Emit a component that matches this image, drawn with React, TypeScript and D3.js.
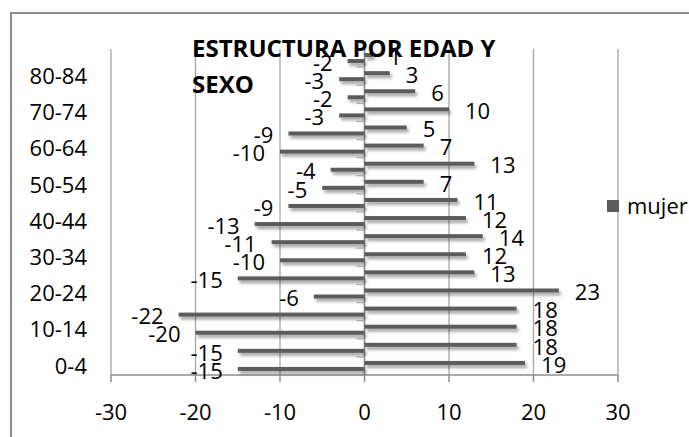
import * as d3 from "d3";

const ageGroups = [
  "0-4", "5-9", "10-14", "15-19", "20-24", "25-29", "30-34", "35-39", "40-44",
  "45-49", "50-54", "55-59", "60-64", "65-69", "70-74", "75-79", "80-84", "85+",
];
const hombre = [-15, -15, -20, -22, -6, -15, -10, -11, -13, -9, -5, -4, -10, -9, -3, -2, -3, -2];
const mujer = [19, 18, 18, 18, 23, 13, 12, 14, 12, 11, 7, 13, 7, 5, 10, 6, 3, 1];
const xTicks = [-30, -20, -10, 0, 10, 20, 30];
const seriesNames = ["mujer", "hombre"];
const titleLines = ["ESTRUCTURA POR EDAD Y", "SEXO"];

const W = 689;
const H = 437;
const FONT = "'Open Sans', 'Liberation Sans', sans-serif";
const BAR = "#5c5c5c";
const GRID = "#a6a6a6";

export default function App() {
  const x = d3.scaleLinear().domain([-30, 30]).range([111, 618]);
  const y = d3.scaleBand().domain(ageGroups).range([375, 49]);
  const bw = y.bandwidth();
  const sub = d3
    .scaleBand()
    .domain(seriesNames)
    .range([0, bw])
    .paddingInner(0.33)
    .paddingOuter(0.67);

  const rows = ageGroups.flatMap((g, i) => [
    { group: g, serie: "hombre", value: hombre[i] },
    { group: g, serie: "mujer", value: mujer[i] },
  ]);

  // every second age group gets a label, like the original
  const labelled = ageGroups.filter((_, i) => i % 2 === 0);

  const x0 = x(0);
  const axisY = 375;

  return (
    <svg
      width={W}
      height={H}
      style={{ position: "absolute", left: 0, top: 0, background: "#fff" }}
      fontFamily={FONT}
    >
      <defs>
        <filter id="shadow" x="-10%" y="-100%" width="130%" height="400%">
          <feDropShadow dx="2" dy="3" stdDeviation="1.8" floodColor="#000" floodOpacity="0.35" />
        </filter>
      </defs>

      {/* chart border (runs off the picture on the right and bottom) */}
      <rect x={11} y={13} width={720} height={460} fill="none" stroke="#8c8c8c" strokeWidth={2} />

      {/* vertical gridlines */}
      {xTicks.map((t) => (
        <line key={"g" + t} x1={x(t)} x2={x(t)} y1={49} y2={axisY} stroke={GRID} strokeWidth={1.3} />
      ))}

      {/* value axis */}
      <line x1={x(-30)} x2={x(30)} y1={axisY} y2={axisY} stroke="#8c8c8c" strokeWidth={1.5} />
      {xTicks.map((t) => (
        <g key={"t" + t}>
          <line x1={x(t)} x2={x(t)} y1={axisY} y2={axisY + 7} stroke="#8c8c8c" strokeWidth={1.5} />
          <text x={x(t)} y={412} textAnchor="middle" dy="0.35em" fontSize={22} fill="#000">
            {t}
          </text>
        </g>
      ))}

      {/* category axis at zero */}
      <line x1={x0} x2={x0} y1={49} y2={axisY} stroke="#8c8c8c" strokeWidth={1.5} />
      {ageGroups.map((g) => (
        <line
          key={"ct" + g}
          x1={x0 - 8}
          x2={x0}
          y1={(y(g) as number)}
          y2={(y(g) as number)}
          stroke="#bdbdbd"
          strokeWidth={1.3}
        />
      ))}
      {labelled.map((g) => (
        <text
          key={"cl" + g}
          x={87}
          y={(y(g) as number) + bw / 2}
          dy="0.35em"
          textAnchor="end"
          fontSize={22}
          fill="#000"
        >
          {g}
        </text>
      ))}

      {/* bars */}
      <g filter="url(#shadow)">
        {rows.map((r) => {
          const top = (y(r.group) as number) + (sub(r.serie) as number);
          return (
            <rect
              key={"b" + r.group + r.serie}
              x={Math.min(x0, x(r.value))}
              y={top}
              width={Math.abs(x(r.value) - x0)}
              height={sub.bandwidth()}
              fill={BAR}
            />
          );
        })}
      </g>

      {/* data labels */}
      {rows.map((r) => {
        const cy = (y(r.group) as number) + (sub(r.serie) as number) + sub.bandwidth() / 2 + 2;
        const neg = r.value < 0;
        return (
          <text
            key={"l" + r.group + r.serie}
            x={neg ? x(r.value) - 15 : x(r.value) + 16}
            y={cy}
            dy="0.35em"
            textAnchor={neg ? "end" : "start"}
            fontSize={22}
            fill="#000"
          >
            {r.value}
          </text>
        );
      })}

      {/* legend */}
      <rect x={607} y={200} width={12} height={12} fill={BAR} />
      <text x={627} y={206} dy="0.35em" fontSize={22} fill="#000">
        mujer
      </text>

      {/* title */}
      {titleLines.map((t, i) => (
        <text key={"tt" + i} x={192} y={57 + i * 36} fontSize={24} fontWeight={700} fill="#000">
          {t}
        </text>
      ))}
    </svg>
  );
}
